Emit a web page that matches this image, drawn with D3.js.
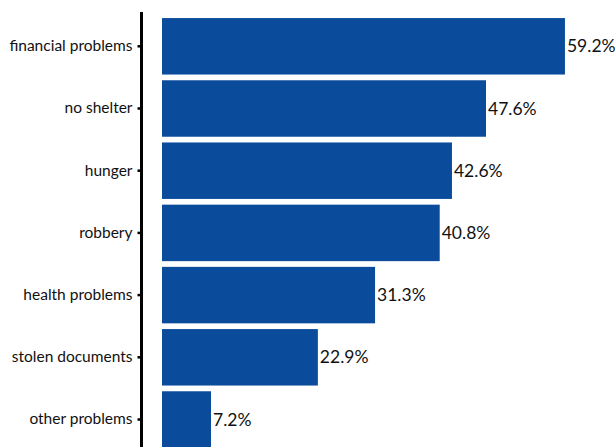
<!DOCTYPE html>
<html><head><meta charset="utf-8">
<script src="https://cdn.jsdelivr.net/npm/d3@7"></script>
<style>body{margin:0;background:#fff}svg{display:block}</style>
</head><body>
<script>
const categories = ["financial problems","no shelter","hunger","robbery","health problems","stolen documents","other problems"];
const values = [59.2,47.6,42.6,40.8,31.3,22.9,7.2];
const valueLabels = ["59.2%","47.6%","42.6%","40.8%","31.3%","22.9%","7.2%"];

const W = 615, H = 447;
const svg = d3.select("body").append("svg").attr("width", W).attr("height", H);
const font = "Lato, 'Open Sans', sans-serif";

const x = d3.scaleLinear().domain([0, 60]).range([162, 570.4]);
const y = d3.scaleBand().domain(categories).range([15.2, 450.6]).paddingInner(0.092).paddingOuter(0.046);

svg.selectAll("rect.bar").data(categories).enter().append("rect")
  .attr("class","bar")
  .attr("x", x(0))
  .attr("y", d => y(d))
  .attr("width", (d,i) => x(values[i]) - x(0))
  .attr("height", y.bandwidth())
  .attr("fill", "#0a4c9b");

svg.selectAll("text.val").data(categories).enter().append("text")
  .attr("class","val")
  .attr("x", (d,i) => x(values[i]) + 2)
  .attr("y", d => y(d) + y.bandwidth()/2)
  .attr("dy", "0.35em")
  .attr("font-family", font)
  .attr("font-size", 17.5)
  .attr("fill", "#111")
  .text((d,i) => valueLabels[i]);

const ax = svg.append("g").attr("transform", "translate(141.5,0)")
  .call(d3.axisLeft(y).tickSize(4).tickSizeOuter(0).tickPadding(5));
ax.select(".domain").attr("stroke","#000").attr("stroke-width",3).attr("d","M0,12V447");
ax.selectAll(".tick line").attr("stroke","#000").attr("stroke-width",2.5);
ax.selectAll(".tick text").attr("font-family", font).attr("font-size", 15.5).attr("fill","#111");
</script>
</body></html>
